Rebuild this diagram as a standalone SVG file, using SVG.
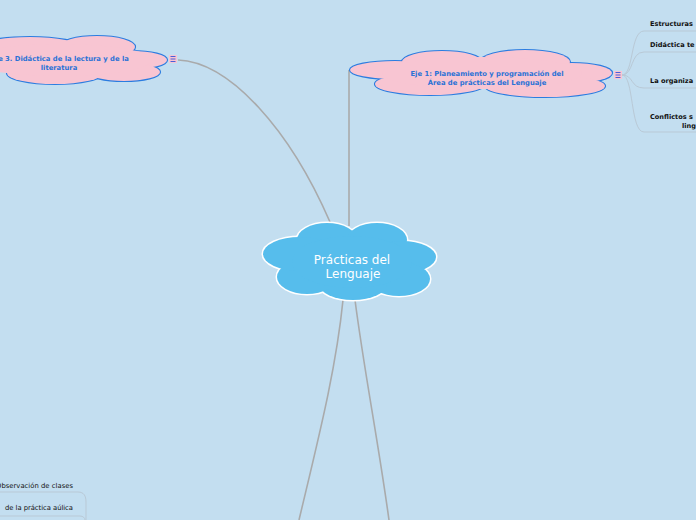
<svg xmlns="http://www.w3.org/2000/svg" width="696" height="520" viewBox="0 0 696 520">
<style>
.bg{fill:#c3def0}
.conn{fill:none;stroke:#a9aaab;stroke-width:1.6}
.branch{fill:none;stroke:#b9c9d6;stroke-width:1}
.cs ellipse{fill:none;stroke:#ffffff;stroke-width:3}
.cf ellipse{fill:#56bdec;stroke:none}
.ps ellipse{fill:none;stroke:#2b7ce0;stroke-width:2.2}
.pf ellipse{fill:#f8c5d2;stroke:none}
.main{font-family:"DejaVu Sans",Verdana,sans-serif;font-size:12px;fill:#ffffff;text-anchor:middle}
.sub{font-family:"DejaVu Sans",Verdana,sans-serif;font-size:6.8px;font-weight:bold;fill:#2a72d6;text-anchor:middle}
.leaf{font-family:"DejaVu Sans",Verdana,sans-serif;font-size:6.6px;font-weight:bold;fill:#111111}
.leafn{font-family:"DejaVu Sans",Verdana,sans-serif;font-size:6.8px;fill:#111111}
.ico{fill:#f8c5d2}
.icol{stroke:#4a5fd8;stroke-width:1}
</style>
<rect class="bg" x="0" y="0" width="696" height="520"/>
<g id="connectors">
<path class="conn" d="M349,70 L349,226"/>
<path class="conn" d="M178,60 C230,62 290,130 330,222"/>
<path class="conn" d="M343,300 C336,370 318,440 299,520"/>
<path class="conn" d="M355,300 C364,370 378,440 389,520"/>
<path class="branch" d="M622,75 C634,75 630,31 644,31 H696"/>
<path class="branch" d="M622,75 C634,75 630,52 644,52 H696"/>
<path class="branch" d="M622,75 C634,75 630,88 644,88 H696"/>
<path class="branch" d="M622,75 C634,75 630,132 644,132 H696"/>
<path class="branch" d="M0,492 H78 C84,492 86,496 86,502 V520"/>
<path class="branch" d="M0,516 H80 C83,516 85,518 85,520"/>
</g>
<g id="node-center">
<g class="cs">
<ellipse cx="327" cy="240" rx="30" ry="17"/>
<ellipse cx="377" cy="240" rx="30" ry="17"/>
<ellipse cx="402" cy="257" rx="34" ry="16"/>
<ellipse cx="399" cy="279" rx="31" ry="17"/>
<ellipse cx="353" cy="284" rx="34" ry="16"/>
<ellipse cx="307" cy="277" rx="30" ry="17"/>
<ellipse cx="300" cy="254" rx="37" ry="17"/>
</g>
<g class="cf">
<ellipse cx="327" cy="240" rx="30" ry="17"/>
<ellipse cx="377" cy="240" rx="30" ry="17"/>
<ellipse cx="402" cy="257" rx="34" ry="16"/>
<ellipse cx="399" cy="279" rx="31" ry="17"/>
<ellipse cx="353" cy="284" rx="34" ry="16"/>
<ellipse cx="307" cy="277" rx="30" ry="17"/>
<ellipse cx="300" cy="254" rx="37" ry="17"/>
<ellipse cx="352" cy="262" rx="60" ry="26"/>
</g>
<text class="main" x="352" y="264">Prácticas del</text>
<text class="main" x="353" y="278">Lenguaje</text>
</g>
<g id="node-eje1">
<g class="ps">
<ellipse cx="395" cy="70" rx="45" ry="9"/>
<ellipse cx="442" cy="62" rx="40" ry="11"/>
<ellipse cx="525" cy="62" rx="45" ry="12"/>
<ellipse cx="572" cy="73" rx="40" ry="10"/>
<ellipse cx="545" cy="86" rx="60" ry="11"/>
<ellipse cx="430" cy="84" rx="55" ry="11"/>
</g>
<g class="pf">
<ellipse cx="395" cy="70" rx="45" ry="9"/>
<ellipse cx="442" cy="62" rx="40" ry="11"/>
<ellipse cx="525" cy="62" rx="45" ry="12"/>
<ellipse cx="572" cy="73" rx="40" ry="10"/>
<ellipse cx="545" cy="86" rx="60" ry="11"/>
<ellipse cx="430" cy="84" rx="55" ry="11"/>
<ellipse cx="482" cy="73" rx="100" ry="16"/>
</g>
<text class="sub" x="487" y="76">Eje 1: Planeamiento y programación del</text>
<text class="sub" x="487" y="85">Área de prácticas del Lenguaje</text>
<rect class="ico" x="614" y="71" width="8" height="8"/>
<path class="icol" d="M615.5,72.5 H620.5 M615.5,75 H620.5 M615.5,77.5 H620.5"/>
</g>
<g id="node-eje3">
<g class="ps">
<ellipse cx="30" cy="47" rx="50" ry="10"/>
<ellipse cx="97" cy="47" rx="38" ry="11"/>
<ellipse cx="132" cy="60" rx="35" ry="9"/>
<ellipse cx="124" cy="72" rx="36" ry="9"/>
<ellipse cx="55" cy="73" rx="48" ry="11"/>
</g>
<g class="pf">
<ellipse cx="30" cy="47" rx="50" ry="10"/>
<ellipse cx="97" cy="47" rx="38" ry="11"/>
<ellipse cx="132" cy="60" rx="35" ry="9"/>
<ellipse cx="124" cy="72" rx="36" ry="9"/>
<ellipse cx="55" cy="73" rx="48" ry="11"/>
<ellipse cx="60" cy="60" rx="92" ry="16"/>
</g>
<text class="sub" x="60" y="61">Eje 3. Didáctica de la lectura y de la</text>
<text class="sub" x="59" y="70">literatura</text>
<rect class="ico" x="169" y="55" width="8" height="8"/>
<path class="icol" d="M170.5,56.5 H175.5 M170.5,59 H175.5 M170.5,61.5 H175.5"/>
</g>
<g id="node-estructuras"><text class="leaf" x="650" y="26">Estructuras</text></g>
<g id="node-didactica"><text class="leaf" x="650" y="47">Didáctica te</text></g>
<g id="node-organiza"><text class="leaf" x="650" y="83">La organiza</text></g>
<g id="node-conflictos"><text class="leaf" x="650" y="119">Conflictos s</text><text class="leaf" x="682" y="128">ling</text></g>
<g id="node-observacion"><text class="leafn" x="-4" y="488" textLength="77" lengthAdjust="spacing">Observación de clases</text></g>
<g id="node-practica"><text class="leafn" x="5" y="510" textLength="68" lengthAdjust="spacing">de la práctica aúlica</text></g>
</svg>
